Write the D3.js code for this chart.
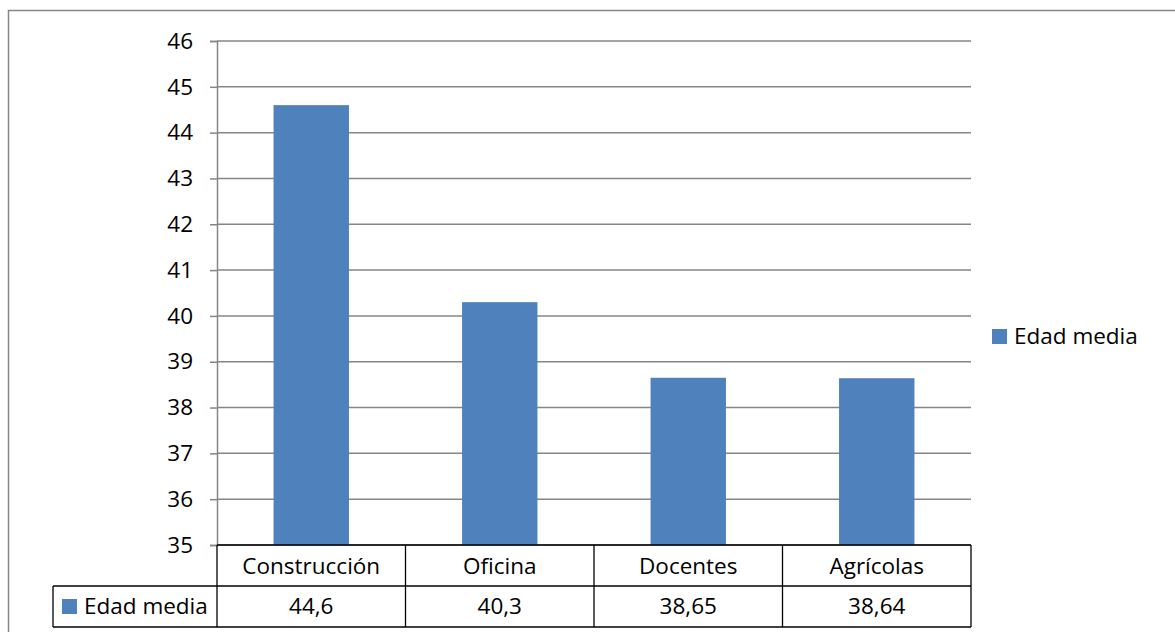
<!DOCTYPE html>
<html>
<head>
<meta charset="utf-8">
<script src="https://cdn.jsdelivr.net/npm/d3@7"></script>
<style>
  html, body { margin: 0; padding: 0; background: #fff; }
  svg { display: block; }
  text { font-family: "Open Sans", "Noto Sans", sans-serif; fill: #000; }
</style>
</head>
<body>
<svg id="chart" width="1175" height="632"></svg>
<script>
// Mean age by occupational group
const categories = ["Construcción", "Oficina", "Docentes", "Agrícolas"];
const values = [44.6, 40.3, 38.65, 38.64];
const valueLabels = ["44,6", "40,3", "38,65", "38,64"];
const seriesName = "Edad media";
const yTicks = [35, 36, 37, 38, 39, 40, 41, 42, 43, 44, 45, 46];

const svg = d3.select("#chart");
const W = 1175, H = 632;
const barColor = "#4F81BD";
const gridColor = "#868686";
const fontSize = 22.5;

// chart frame (extends past the right and bottom edges)
svg.append("rect")
  .attr("x", 8.5).attr("y", 10.5)
  .attr("width", W + 20).attr("height", H + 20)
  .attr("fill", "#fff").attr("stroke", "#868686").attr("stroke-width", 1.5);

const plot = { left: 217, right: 971, top: 41, bottom: 545 };

const x = d3.scaleBand()
  .domain(categories)
  .range([plot.left, plot.right])
  .paddingInner(0.6).paddingOuter(0.3);

const y = d3.scaleLinear()
  .domain([35, 46])
  .range([plot.bottom, plot.top]);

// horizontal gridlines
svg.append("g")
  .selectAll("line")
  .data(yTicks)
  .join("line")
  .attr("x1", plot.left).attr("x2", plot.right)
  .attr("y1", d => y(d)).attr("y2", d => y(d))
  .attr("stroke", gridColor).attr("stroke-width", 1.5);

// y axis
const yAxis = svg.append("g")
  .attr("transform", `translate(${plot.left},0)`)
  .call(d3.axisLeft(y).tickValues(yTicks).tickSize(7).tickPadding(17).tickFormat(d3.format("d")));
yAxis.select(".domain").attr("stroke", gridColor).attr("stroke-width", 1.5);
yAxis.selectAll(".tick line").attr("stroke", gridColor).attr("stroke-width", 1.5);
yAxis.selectAll(".tick text")
  .style("font-family", '"Open Sans", "Noto Sans", sans-serif')
  .style("font-size", fontSize + "px").attr("fill", "#000");

// bars
svg.append("g")
  .selectAll("rect")
  .data(values)
  .join("rect")
  .attr("x", (d, i) => x(categories[i]))
  .attr("width", x.bandwidth())
  .attr("y", d => y(d))
  .attr("height", d => y(35) - y(d))
  .attr("fill", barColor);

// data table beneath the plot
const rowTop = plot.bottom, rowMid = 586, rowBot = 627;
const tableLeft = 53;
const colW = (plot.right - plot.left) / categories.length;
const tbl = svg.append("g").attr("stroke", "#000").attr("stroke-width", 1.3);

// horizontal rules
tbl.append("line").attr("x1", plot.left).attr("x2", plot.right).attr("y1", rowTop).attr("y2", rowTop);
tbl.append("line").attr("x1", tableLeft).attr("x2", plot.right).attr("y1", rowMid).attr("y2", rowMid);
tbl.append("line").attr("x1", tableLeft).attr("x2", plot.right).attr("y1", rowBot).attr("y2", rowBot);
// vertical rules
tbl.append("line").attr("x1", tableLeft).attr("x2", tableLeft).attr("y1", rowMid).attr("y2", rowBot);
d3.range(categories.length + 1).forEach(i => {
  const xx = plot.left + i * colW;
  tbl.append("line").attr("x1", xx).attr("x2", xx).attr("y1", rowTop).attr("y2", rowBot);
});

// category labels
svg.append("g")
  .selectAll("text")
  .data(categories)
  .join("text")
  .attr("x", (d, i) => plot.left + (i + 0.5) * colW)
  .attr("y", 574)
  .attr("text-anchor", "middle")
  .style("font-size", fontSize + "px")
  .text(d => d);

// value labels
svg.append("g")
  .selectAll("text")
  .data(valueLabels)
  .join("text")
  .attr("x", (d, i) => plot.left + (i + 0.5) * colW)
  .attr("y", 614)
  .attr("text-anchor", "middle")
  .style("font-size", fontSize + "px")
  .text(d => d);

// series key in table
svg.append("rect").attr("x", 62).attr("y", 599).attr("width", 15).attr("height", 15).attr("fill", barColor);
svg.append("text").attr("x", 84).attr("y", 614)
  .style("font-size", fontSize + "px").text(seriesName);

// legend
svg.append("rect").attr("x", 992).attr("y", 329).attr("width", 15).attr("height", 15).attr("fill", barColor);
svg.append("text").attr("x", 1014).attr("y", 344)
  .style("font-size", fontSize + "px").text(seriesName);
</script>
</body>
</html>
